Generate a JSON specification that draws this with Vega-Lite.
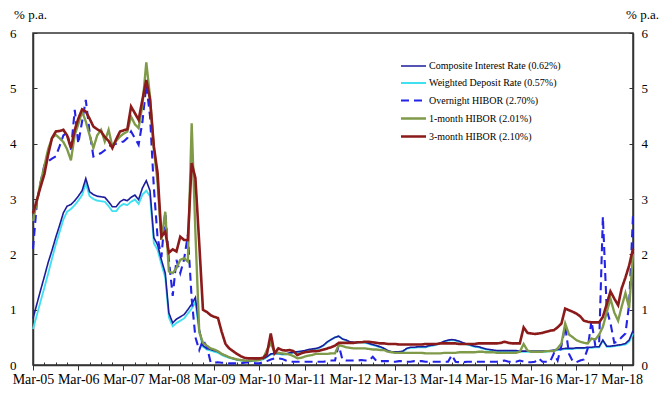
{
"$schema": "https://vega.github.io/schema/vega-lite/v6.json",
"width": 600, "height": 332,
"autosize": {"type": "none"},
"padding": {"left": 33, "top": 33, "right": 39, "bottom": 32},
"background": "white",
"config": {
 "font": "Liberation Serif",
 "view": {"stroke": "#333", "strokeWidth": 1.5},
 "axis": {"labelFont": "Liberation Serif", "titleFont": "Liberation Serif", "labelColor": "black", "titleColor": "black", "titleFontWeight": "normal", "domainColor": "#333", "domainWidth": 1.5, "tickColor": "#333", "tickWidth": 1, "grid": false}
},
"data": {"values": [
{"d":"2005-03-01","c":0.84,"w":0.65,"o":2.1,"h1":2.6,"h3":2.74},
{"d":"2005-04-01","c":1.1,"w":0.9,"o":2.92,"h1":2.95,"h3":2.98},
{"d":"2005-05-01","c":1.35,"w":1.15,"o":3.3,"h1":3.3,"h3":3.22},
{"d":"2005-06-01","c":1.6,"w":1.4,"o":3.61,"h1":3.6,"h3":3.45},
{"d":"2005-07-01","c":1.85,"w":1.65,"o":3.68,"h1":3.9,"h3":3.8},
{"d":"2005-08-01","c":2.07,"w":1.92,"o":3.73,"h1":4.1,"h3":4.1},
{"d":"2005-09-01","c":2.31,"w":2.18,"o":3.77,"h1":4.16,"h3":4.22},
{"d":"2005-10-01","c":2.52,"w":2.4,"o":3.95,"h1":4.1,"h3":4.23},
{"d":"2005-11-01","c":2.75,"w":2.63,"o":4.15,"h1":4.03,"h3":4.25},
{"d":"2005-12-01","c":2.87,"w":2.77,"o":4.2,"h1":3.9,"h3":4.15},
{"d":"2006-01-01","c":2.9,"w":2.82,"o":3.89,"h1":3.7,"h3":3.92},
{"d":"2006-02-01","c":2.97,"w":2.89,"o":4.61,"h1":4.16,"h3":4.25},
{"d":"2006-03-01","c":3.05,"w":2.97,"o":4.0,"h1":4.35,"h3":4.45},
{"d":"2006-04-01","c":3.15,"w":3.07,"o":4.4,"h1":4.58,"h3":4.62},
{"d":"2006-05-01","c":3.37,"w":3.28,"o":4.79,"h1":4.4,"h3":4.58},
{"d":"2006-06-01","c":3.13,"w":3.05,"o":4.2,"h1":4.15,"h3":4.45},
{"d":"2006-07-01","c":3.08,"w":3.0,"o":3.77,"h1":3.92,"h3":4.31},
{"d":"2006-08-01","c":3.05,"w":2.97,"o":3.8,"h1":4.15,"h3":4.26},
{"d":"2006-09-01","c":3.04,"w":2.96,"o":3.83,"h1":4.25,"h3":4.22},
{"d":"2006-10-01","c":3.03,"w":2.95,"o":3.88,"h1":4.04,"h3":4.12},
{"d":"2006-11-01","c":2.95,"w":2.87,"o":3.95,"h1":4.25,"h3":4.05},
{"d":"2006-12-01","c":2.86,"w":2.78,"o":3.98,"h1":3.95,"h3":3.92},
{"d":"2007-01-01","c":2.86,"w":2.78,"o":4.0,"h1":4.05,"h3":4.08},
{"d":"2007-02-01","c":2.95,"w":2.87,"o":4.02,"h1":4.13,"h3":4.22},
{"d":"2007-03-01","c":2.99,"w":2.91,"o":4.04,"h1":4.18,"h3":4.24},
{"d":"2007-04-01","c":2.97,"w":2.89,"o":4.1,"h1":4.22,"h3":4.26},
{"d":"2007-05-01","c":3.03,"w":2.95,"o":4.22,"h1":4.49,"h3":4.67},
{"d":"2007-06-01","c":3.07,"w":2.99,"o":4.1,"h1":4.35,"h3":4.55},
{"d":"2007-07-01","c":2.99,"w":2.91,"o":3.98,"h1":4.28,"h3":4.43},
{"d":"2007-08-01","c":3.2,"w":3.08,"o":4.4,"h1":4.7,"h3":4.8},
{"d":"2007-09-01","c":3.33,"w":3.15,"o":5.06,"h1":5.47,"h3":5.15},
{"d":"2007-10-01","c":3.15,"w":3.05,"o":4.5,"h1":4.85,"h3":4.8},
{"d":"2007-11-01","c":2.3,"w":2.2,"o":3.2,"h1":3.9,"h3":3.95},
{"d":"2007-12-01","c":2.17,"w":2.08,"o":2.3,"h1":3.3,"h3":3.47},
{"d":"2008-01-01","c":1.9,"w":1.82,"o":1.95,"h1":2.26,"h3":2.32},
{"d":"2008-02-01","c":1.66,"w":1.58,"o":2.77,"h1":2.77,"h3":2.41},
{"d":"2008-03-01","c":0.94,"w":0.86,"o":1.9,"h1":1.69,"h3":2.03},
{"d":"2008-04-01","c":0.76,"w":0.7,"o":1.25,"h1":1.66,"h3":2.09},
{"d":"2008-05-01","c":0.83,"w":0.76,"o":1.9,"h1":1.75,"h3":2.05},
{"d":"2008-06-01","c":0.87,"w":0.8,"o":1.66,"h1":1.9,"h3":2.32},
{"d":"2008-07-01","c":0.91,"w":0.84,"o":1.9,"h1":1.93,"h3":2.26},
{"d":"2008-08-01","c":1.0,"w":0.93,"o":2.35,"h1":1.87,"h3":2.26},
{"d":"2008-09-01","c":1.1,"w":1.02,"o":1.2,"h1":4.37,"h3":3.65},
{"d":"2008-10-01","c":1.22,"w":1.14,"o":0.5,"h1":2.4,"h3":3.38},
{"d":"2008-11-01","c":0.65,"w":0.6,"o":0.27,"h1":0.6,"h3":2.2},
{"d":"2008-12-01","c":0.35,"w":0.33,"o":0.45,"h1":0.4,"h3":1.0},
{"d":"2009-01-01","c":0.3,"w":0.28,"o":0.33,"h1":0.35,"h3":0.96},
{"d":"2009-02-01","c":0.28,"w":0.26,"o":0.05,"h1":0.3,"h3":0.9},
{"d":"2009-03-01","c":0.26,"w":0.24,"o":0.04,"h1":0.28,"h3":0.87},
{"d":"2009-04-01","c":0.24,"w":0.22,"o":0.05,"h1":0.25,"h3":0.85},
{"d":"2009-05-01","c":0.2,"w":0.18,"o":0.04,"h1":0.2,"h3":0.6},
{"d":"2009-06-01","c":0.17,"w":0.15,"o":0.04,"h1":0.17,"h3":0.38},
{"d":"2009-07-01","c":0.14,"w":0.13,"o":0.03,"h1":0.14,"h3":0.3},
{"d":"2009-08-01","c":0.12,"w":0.11,"o":0.03,"h1":0.12,"h3":0.25},
{"d":"2009-09-01","c":0.1,"w":0.09,"o":0.03,"h1":0.1,"h3":0.2},
{"d":"2009-10-01","c":0.09,"w":0.08,"o":0.03,"h1":0.09,"h3":0.16},
{"d":"2009-11-01","c":0.08,"w":0.07,"o":0.04,"h1":0.08,"h3":0.13},
{"d":"2009-12-01","c":0.07,"w":0.06,"o":0.05,"h1":0.08,"h3":0.12},
{"d":"2010-01-01","c":0.08,"w":0.07,"o":0.04,"h1":0.08,"h3":0.12},
{"d":"2010-02-01","c":0.09,"w":0.08,"o":0.03,"h1":0.08,"h3":0.12},
{"d":"2010-03-01","c":0.1,"w":0.09,"o":0.03,"h1":0.09,"h3":0.12},
{"d":"2010-04-01","c":0.11,"w":0.1,"o":0.05,"h1":0.12,"h3":0.13},
{"d":"2010-05-01","c":0.15,"w":0.14,"o":0.07,"h1":0.27,"h3":0.2},
{"d":"2010-06-01","c":0.2,"w":0.19,"o":0.1,"h1":0.39,"h3":0.57},
{"d":"2010-07-01","c":0.21,"w":0.2,"o":0.12,"h1":0.24,"h3":0.21},
{"d":"2010-08-01","c":0.21,"w":0.2,"o":0.12,"h1":0.22,"h3":0.3},
{"d":"2010-09-01","c":0.2,"w":0.19,"o":0.11,"h1":0.21,"h3":0.27},
{"d":"2010-10-01","c":0.2,"w":0.19,"o":0.08,"h1":0.2,"h3":0.26},
{"d":"2010-11-01","c":0.22,"w":0.21,"o":0.06,"h1":0.19,"h3":0.27},
{"d":"2010-12-01","c":0.23,"w":0.22,"o":0.06,"h1":0.16,"h3":0.25},
{"d":"2011-01-01","c":0.24,"w":0.23,"o":0.06,"h1":0.12,"h3":0.18},
{"d":"2011-02-01","c":0.25,"w":0.24,"o":0.06,"h1":0.13,"h3":0.21},
{"d":"2011-03-01","c":0.26,"w":0.25,"o":0.06,"h1":0.15,"h3":0.23},
{"d":"2011-04-01","c":0.28,"w":0.27,"o":0.06,"h1":0.17,"h3":0.24},
{"d":"2011-05-01","c":0.29,"w":0.28,"o":0.06,"h1":0.18,"h3":0.25},
{"d":"2011-06-01","c":0.3,"w":0.29,"o":0.06,"h1":0.2,"h3":0.25},
{"d":"2011-07-01","c":0.32,"w":0.31,"o":0.06,"h1":0.2,"h3":0.26},
{"d":"2011-08-01","c":0.36,"w":0.35,"o":0.06,"h1":0.2,"h3":0.28},
{"d":"2011-09-01","c":0.42,"w":0.41,"o":0.07,"h1":0.2,"h3":0.3},
{"d":"2011-10-01","c":0.46,"w":0.46,"o":0.08,"h1":0.21,"h3":0.32},
{"d":"2011-11-01","c":0.5,"w":0.5,"o":0.08,"h1":0.21,"h3":0.35},
{"d":"2011-12-01","c":0.52,"w":0.52,"o":0.36,"h1":0.36,"h3":0.4},
{"d":"2012-01-01","c":0.47,"w":0.47,"o":0.09,"h1":0.34,"h3":0.4},
{"d":"2012-02-01","c":0.45,"w":0.44,"o":0.08,"h1":0.32,"h3":0.4},
{"d":"2012-03-01","c":0.42,"w":0.41,"o":0.08,"h1":0.31,"h3":0.4},
{"d":"2012-04-01","c":0.41,"w":0.4,"o":0.08,"h1":0.3,"h3":0.4},
{"d":"2012-05-01","c":0.41,"w":0.4,"o":0.08,"h1":0.3,"h3":0.41},
{"d":"2012-06-01","c":0.42,"w":0.41,"o":0.09,"h1":0.3,"h3":0.41},
{"d":"2012-07-01","c":0.41,"w":0.4,"o":0.08,"h1":0.3,"h3":0.42},
{"d":"2012-08-01","c":0.39,"w":0.38,"o":0.08,"h1":0.29,"h3":0.42},
{"d":"2012-09-01","c":0.37,"w":0.36,"o":0.15,"h1":0.28,"h3":0.41},
{"d":"2012-10-01","c":0.35,"w":0.34,"o":0.07,"h1":0.28,"h3":0.4},
{"d":"2012-11-01","c":0.33,"w":0.32,"o":0.07,"h1":0.27,"h3":0.39},
{"d":"2012-12-01","c":0.3,"w":0.29,"o":0.07,"h1":0.27,"h3":0.39},
{"d":"2013-01-01","c":0.26,"w":0.25,"o":0.07,"h1":0.24,"h3":0.38},
{"d":"2013-02-01","c":0.24,"w":0.23,"o":0.06,"h1":0.23,"h3":0.38},
{"d":"2013-03-01","c":0.24,"w":0.23,"o":0.06,"h1":0.22,"h3":0.38},
{"d":"2013-04-01","c":0.24,"w":0.23,"o":0.07,"h1":0.22,"h3":0.37},
{"d":"2013-05-01","c":0.25,"w":0.24,"o":0.07,"h1":0.22,"h3":0.37},
{"d":"2013-06-01","c":0.3,"w":0.29,"o":0.06,"h1":0.22,"h3":0.37},
{"d":"2013-07-01","c":0.32,"w":0.31,"o":0.06,"h1":0.22,"h3":0.37},
{"d":"2013-08-01","c":0.32,"w":0.31,"o":0.07,"h1":0.22,"h3":0.37},
{"d":"2013-09-01","c":0.33,"w":0.32,"o":0.07,"h1":0.22,"h3":0.37},
{"d":"2013-10-01","c":0.33,"w":0.32,"o":0.07,"h1":0.22,"h3":0.37},
{"d":"2013-11-01","c":0.33,"w":0.32,"o":0.06,"h1":0.21,"h3":0.38},
{"d":"2013-12-01","c":0.35,"w":0.34,"o":0.06,"h1":0.21,"h3":0.38},
{"d":"2014-01-01","c":0.36,"w":0.35,"o":0.06,"h1":0.21,"h3":0.38},
{"d":"2014-02-01","c":0.38,"w":0.37,"o":0.06,"h1":0.21,"h3":0.38},
{"d":"2014-03-01","c":0.4,"w":0.39,"o":0.06,"h1":0.21,"h3":0.39},
{"d":"2014-04-01","c":0.43,"w":0.42,"o":0.06,"h1":0.22,"h3":0.39},
{"d":"2014-05-01","c":0.45,"w":0.44,"o":0.06,"h1":0.22,"h3":0.39},
{"d":"2014-06-01","c":0.46,"w":0.45,"o":0.18,"h1":0.22,"h3":0.39},
{"d":"2014-07-01","c":0.45,"w":0.44,"o":0.06,"h1":0.22,"h3":0.39},
{"d":"2014-08-01","c":0.43,"w":0.42,"o":0.05,"h1":0.23,"h3":0.38},
{"d":"2014-09-01","c":0.4,"w":0.39,"o":0.05,"h1":0.23,"h3":0.38},
{"d":"2014-10-01","c":0.38,"w":0.37,"o":0.06,"h1":0.23,"h3":0.38},
{"d":"2014-11-01","c":0.36,"w":0.35,"o":0.06,"h1":0.23,"h3":0.38},
{"d":"2014-12-01","c":0.34,"w":0.33,"o":0.06,"h1":0.23,"h3":0.38},
{"d":"2015-01-01","c":0.33,"w":0.32,"o":0.06,"h1":0.24,"h3":0.39},
{"d":"2015-02-01","c":0.31,"w":0.3,"o":0.06,"h1":0.24,"h3":0.39},
{"d":"2015-03-01","c":0.29,"w":0.28,"o":0.06,"h1":0.23,"h3":0.39},
{"d":"2015-04-01","c":0.28,"w":0.27,"o":0.06,"h1":0.23,"h3":0.39},
{"d":"2015-05-01","c":0.27,"w":0.26,"o":0.06,"h1":0.23,"h3":0.39},
{"d":"2015-06-01","c":0.26,"w":0.25,"o":0.06,"h1":0.22,"h3":0.39},
{"d":"2015-07-01","c":0.26,"w":0.25,"o":0.07,"h1":0.22,"h3":0.4},
{"d":"2015-08-01","c":0.26,"w":0.25,"o":0.08,"h1":0.22,"h3":0.42},
{"d":"2015-09-01","c":0.26,"w":0.25,"o":0.06,"h1":0.22,"h3":0.4},
{"d":"2015-10-01","c":0.26,"w":0.25,"o":0.06,"h1":0.22,"h3":0.39},
{"d":"2015-11-01","c":0.26,"w":0.25,"o":0.06,"h1":0.22,"h3":0.39},
{"d":"2015-12-01","c":0.25,"w":0.24,"o":0.08,"h1":0.24,"h3":0.39},
{"d":"2016-01-01","c":0.25,"w":0.24,"o":0.06,"h1":0.38,"h3":0.68},
{"d":"2016-02-01","c":0.25,"w":0.24,"o":0.05,"h1":0.26,"h3":0.58},
{"d":"2016-03-01","c":0.25,"w":0.24,"o":0.05,"h1":0.24,"h3":0.57},
{"d":"2016-04-01","c":0.25,"w":0.24,"o":0.06,"h1":0.24,"h3":0.56},
{"d":"2016-05-01","c":0.25,"w":0.24,"o":0.12,"h1":0.24,"h3":0.57},
{"d":"2016-06-01","c":0.25,"w":0.24,"o":0.06,"h1":0.24,"h3":0.58},
{"d":"2016-07-01","c":0.25,"w":0.24,"o":0.06,"h1":0.25,"h3":0.6},
{"d":"2016-08-01","c":0.26,"w":0.25,"o":0.06,"h1":0.25,"h3":0.62},
{"d":"2016-09-01","c":0.27,"w":0.26,"o":0.21,"h1":0.25,"h3":0.63},
{"d":"2016-10-01","c":0.28,"w":0.27,"o":0.08,"h1":0.3,"h3":0.68},
{"d":"2016-11-01","c":0.29,"w":0.28,"o":0.35,"h1":0.39,"h3":0.75},
{"d":"2016-12-01","c":0.3,"w":0.29,"o":0.7,"h1":0.75,"h3":1.02},
{"d":"2017-01-01","c":0.3,"w":0.29,"o":0.2,"h1":0.55,"h3":0.99},
{"d":"2017-02-01","c":0.3,"w":0.29,"o":0.06,"h1":0.5,"h3":0.96},
{"d":"2017-03-01","c":0.31,"w":0.3,"o":0.05,"h1":0.45,"h3":0.93},
{"d":"2017-04-01","c":0.31,"w":0.3,"o":0.08,"h1":0.42,"h3":0.88},
{"d":"2017-05-01","c":0.31,"w":0.3,"o":0.1,"h1":0.4,"h3":0.8},
{"d":"2017-06-01","c":0.32,"w":0.31,"o":0.3,"h1":0.39,"h3":0.78},
{"d":"2017-07-01","c":0.32,"w":0.31,"o":0.8,"h1":0.48,"h3":0.77},
{"d":"2017-08-01","c":0.33,"w":0.32,"o":0.35,"h1":0.46,"h3":0.77},
{"d":"2017-09-01","c":0.33,"w":0.32,"o":0.4,"h1":0.55,"h3":0.77},
{"d":"2017-10-01","c":0.45,"w":0.44,"o":2.68,"h1":0.69,"h3":0.87},
{"d":"2017-11-01","c":0.34,"w":0.33,"o":1.0,"h1":0.95,"h3":1.1},
{"d":"2017-12-01","c":0.34,"w":0.33,"o":0.76,"h1":1.2,"h3":1.33},
{"d":"2018-01-01","c":0.35,"w":0.34,"o":0.4,"h1":0.95,"h3":1.2},
{"d":"2018-02-01","c":0.36,"w":0.35,"o":0.43,"h1":0.8,"h3":1.08},
{"d":"2018-03-01","c":0.37,"w":0.36,"o":0.5,"h1":1.05,"h3":1.38},
{"d":"2018-04-01","c":0.39,"w":0.37,"o":0.57,"h1":1.3,"h3":1.58},
{"d":"2018-05-01","c":0.45,"w":0.42,"o":1.1,"h1":1.03,"h3":1.8},
{"d":"2018-06-01","c":0.62,"w":0.57,"o":2.7,"h1":2.01,"h3":2.1}
]},
"transform": [{"fold": ["w", "c", "o", "h1", "h3"], "as": ["s", "v"]}],
"layer": [
 {
  "mark": {"type": "line"},
  "encoding": {
   "x": {"field": "d", "type": "temporal",
    "scale": {"type": "utc", "nice": false, "domain": [{"year": 2005, "month": 3, "date": 1, "utc": true}, {"year": 2018, "month": 6, "date": 1, "utc": true}]},
    "axis": {
     "orient": "bottom",
     "title": null,
     "values": [
      {"year":2005,"month":3,"date":1,"utc":true},{"year":2006,"month":3,"date":1,"utc":true},{"year":2007,"month":3,"date":1,"utc":true},
      {"year":2008,"month":3,"date":1,"utc":true},{"year":2009,"month":3,"date":1,"utc":true},{"year":2010,"month":3,"date":1,"utc":true},
      {"year":2011,"month":3,"date":1,"utc":true},{"year":2012,"month":3,"date":1,"utc":true},{"year":2013,"month":3,"date":1,"utc":true},
      {"year":2014,"month":3,"date":1,"utc":true},{"year":2015,"month":3,"date":1,"utc":true},{"year":2016,"month":3,"date":1,"utc":true},
      {"year":2017,"month":3,"date":1,"utc":true},{"year":2018,"month":3,"date":1,"utc":true}
     ],
     "labelExpr": "utcFormat(datum.value, '%b-%y')",
     "tickSize": 5,
     "labelPadding": 2,
     "labelFontSize": 14,
     "labelAngle": 0,
     "labelOverlap": false,
     "labelFlush": false
    }
   },
   "y": {"field": "v", "type": "quantitative",
    "scale": {"domain": [0, 6], "nice": false},
    "axis": {"orient": "left", "values": [0,1,2,3,4,5,6], "tickSize": -4, "labelPadding": 21, "labelFontSize": 13,
     "title": "% p.a.", "titleAngle": 0, "titleX": -3, "titleY": -19, "titleAlign": "center", "titleBaseline": "middle", "titleFontSize": 13}
   },
   "color": {"field": "s", "type": "nominal",
    "scale": {"domain": ["c", "w", "o", "h1", "h3"], "range": ["#1C1C9C", "#3FE0F0", "#2323E6", "#7F9A48", "#8B1A1A"]},
    "legend": {"orient": "none", "legendX": 374, "legendY": 27, "title": null, "padding": 0,
     "symbolType": "M-2.5,0H2.5", "symbolSize": 100, "symbolStrokeWidth": 1.6, "labelOffset": 9,
     "labelFont": "Liberation Serif", "labelFontSize": 10, "labelColor": "black", "rowPadding": 6, "labelLimit": 300,
     "labelExpr": "datum.label == 'c' ? 'Composite Interest Rate (0.62%)' : datum.label == 'w' ? 'Weighted Deposit Rate (0.57%)' : datum.label == 'o' ? 'Overnight HIBOR (2.70%)' : datum.label == 'h1' ? '1-month HIBOR (2.01%)' : '3-month HIBOR (2.10%)'"}
   },
   "strokeDash": {"field": "s", "type": "nominal",
    "scale": {"domain": ["c", "w", "o", "h1", "h3"], "range": [[1, 0], [1, 0], [8, 5], [1, 0], [1, 0]]}},
   "strokeWidth": {"field": "s", "type": "nominal",
    "scale": {"domain": ["c", "w", "o", "h1", "h3"], "range": [1.6, 2.6, 1.8, 1.6, 1.6]}, "legend": null}
  }
 },
 {
  "mark": {"type": "line", "opacity": 0},
  "encoding": {
   "x": {"field": "d", "type": "temporal",
    "axis": {
     "orient": "bottom", "title": null, "labels": false, "domain": false, "tickSize": -3,
     "values": [
      {"year":2005,"month":6,"date":1,"utc":true},{"year":2005,"month":9,"date":1,"utc":true},{"year":2005,"month":12,"date":1,"utc":true},
      {"year":2006,"month":6,"date":1,"utc":true},{"year":2006,"month":9,"date":1,"utc":true},{"year":2006,"month":12,"date":1,"utc":true},
      {"year":2007,"month":6,"date":1,"utc":true},{"year":2007,"month":9,"date":1,"utc":true},{"year":2007,"month":12,"date":1,"utc":true},
      {"year":2008,"month":6,"date":1,"utc":true},{"year":2008,"month":9,"date":1,"utc":true},{"year":2008,"month":12,"date":1,"utc":true},
      {"year":2009,"month":6,"date":1,"utc":true},{"year":2009,"month":9,"date":1,"utc":true},{"year":2009,"month":12,"date":1,"utc":true},
      {"year":2010,"month":6,"date":1,"utc":true},{"year":2010,"month":9,"date":1,"utc":true},{"year":2010,"month":12,"date":1,"utc":true},
      {"year":2011,"month":6,"date":1,"utc":true},{"year":2011,"month":9,"date":1,"utc":true},{"year":2011,"month":12,"date":1,"utc":true},
      {"year":2012,"month":6,"date":1,"utc":true},{"year":2012,"month":9,"date":1,"utc":true},{"year":2012,"month":12,"date":1,"utc":true},
      {"year":2013,"month":6,"date":1,"utc":true},{"year":2013,"month":9,"date":1,"utc":true},{"year":2013,"month":12,"date":1,"utc":true},
      {"year":2014,"month":6,"date":1,"utc":true},{"year":2014,"month":9,"date":1,"utc":true},{"year":2014,"month":12,"date":1,"utc":true},
      {"year":2015,"month":6,"date":1,"utc":true},{"year":2015,"month":9,"date":1,"utc":true},{"year":2015,"month":12,"date":1,"utc":true},
      {"year":2016,"month":6,"date":1,"utc":true},{"year":2016,"month":9,"date":1,"utc":true},{"year":2016,"month":12,"date":1,"utc":true},
      {"year":2017,"month":6,"date":1,"utc":true},{"year":2017,"month":9,"date":1,"utc":true},{"year":2017,"month":12,"date":1,"utc":true}
     ]
    }
   },
   "y": {"field": "v", "type": "quantitative",
    "scale": {"domain": [0, 6], "nice": false},
    "axis": {"orient": "right", "values": [0,1,2,3,4,5,6], "tickSize": -4, "labelPadding": 12, "labelFontSize": 13,
     "title": "% p.a.", "titleAngle": 0, "titleX": 9, "titleY": -19, "titleAlign": "center", "titleBaseline": "middle", "titleFontSize": 13}
   },
   "detail": {"field": "s"}
  }
 }
],
"resolve": {"axis": {"x": "independent", "y": "independent"}}
}
